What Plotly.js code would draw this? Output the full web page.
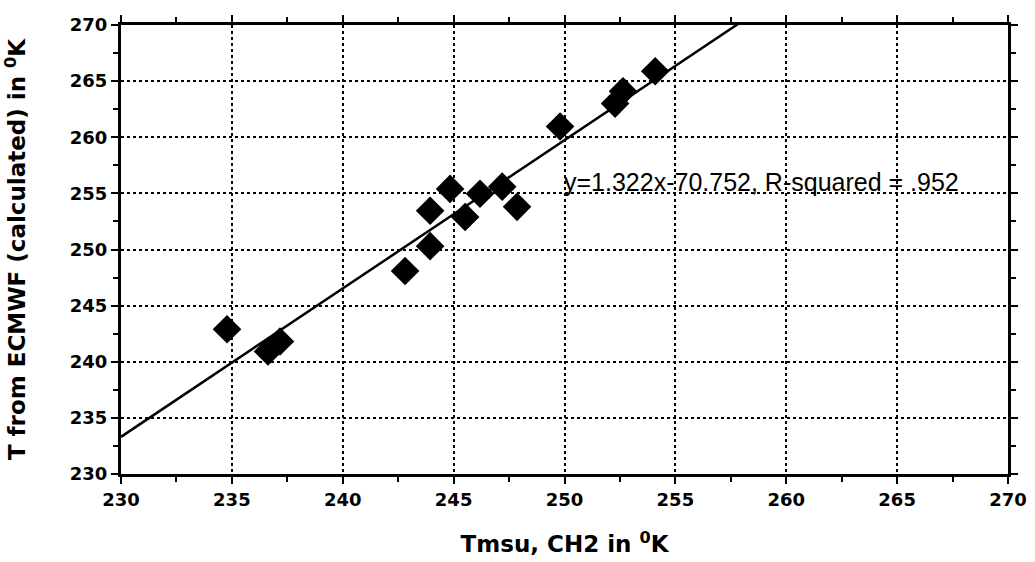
<!DOCTYPE html>
<html><head><meta charset="utf-8">
<script src="https://cdn.plot.ly/plotly-3.0.1.min.js"></script>
<style>html,body{margin:0;padding:0;background:#fff}#chart{width:1035px;height:562px}</style>
</head><body><div id="chart"></div>
<script>
const tmsu = [234.78, 236.63, 237.17, 242.81, 243.94, 243.94, 244.84, 245.52, 246.19, 247.19, 247.86, 249.8, 252.28, 252.64, 254.09];
const tEcmwf = [242.9, 240.92, 241.8, 248.08, 250.3, 253.45, 255.4, 252.9, 254.97, 255.6, 253.8, 260.96, 263.0, 264.1, 265.88];
const fitSlope = 1.322;
const fitIntercept = -70.752;
const fitRange = [230, 270];
const fitLabel = 'y=1.322x-70.752, R-squared = .952';
const tickVals = [230, 235, 240, 245, 250, 255, 260, 265, 270];

const fitX = fitRange;
const fitY = fitRange.map(x => fitSlope * x + fitIntercept);

const axisCommon = {
  range: [230, 270],
  tickvals: tickVals,
  ticks: 'outside', ticklen: 7, tickwidth: 2, tickcolor: '#000',
  showline: true, linewidth: 3, linecolor: '#000', mirror: 'ticks',
  showgrid: true, gridcolor: '#000', gridwidth: 2, griddash: 'dot',
  zeroline: false,
  minor: {dtick: 2.5, ticks: 'outside', ticklen: 5, tickwidth: 2, tickcolor: '#000', showgrid: false},
  tickfont: {family: 'DejaVu Sans, sans-serif', size: 18, color: '#000', weight: 'bold'}
};

const data = [
  {x: fitX, y: fitY, mode: 'lines', line: {color: '#000', width: 2.5}, hoverinfo: 'skip', showlegend: false},
  {x: tmsu, y: tEcmwf, mode: 'markers', marker: {symbol: 'diamond', size: 22, color: '#000'}, showlegend: false}
];

const layout = {
  width: 1035, height: 562,
  margin: {l: 121, r: 27, t: 25, b: 88},
  paper_bgcolor: '#fff', plot_bgcolor: '#fff',
  xaxis: Object.assign({}, axisCommon, {
    title: {text: 'Tmsu, CH2 in <sup>0</sup>K', standoff: 28, font: {family: 'DejaVu Sans, sans-serif', size: 23, color: '#000', weight: 'bold'}}
  }),
  yaxis: Object.assign({}, axisCommon, {
    title: {text: 'T from ECMWF (calculated) in <sup>0</sup>K', standoff: 38, font: {family: 'DejaVu Sans, sans-serif', size: 23, color: '#000', weight: 'bold'}}
  }),
  annotations: [{
    x: 249.9, y: 256, xref: 'x', yref: 'y', xanchor: 'left', yanchor: 'middle',
    text: fitLabel, showarrow: false,
    font: {family: 'Liberation Sans, Arial, sans-serif', size: 25, color: '#000'}
  }]
};

Plotly.newPlot('chart', data, layout, {displayModeBar: false, staticPlot: true});
</script>
</body></html>
